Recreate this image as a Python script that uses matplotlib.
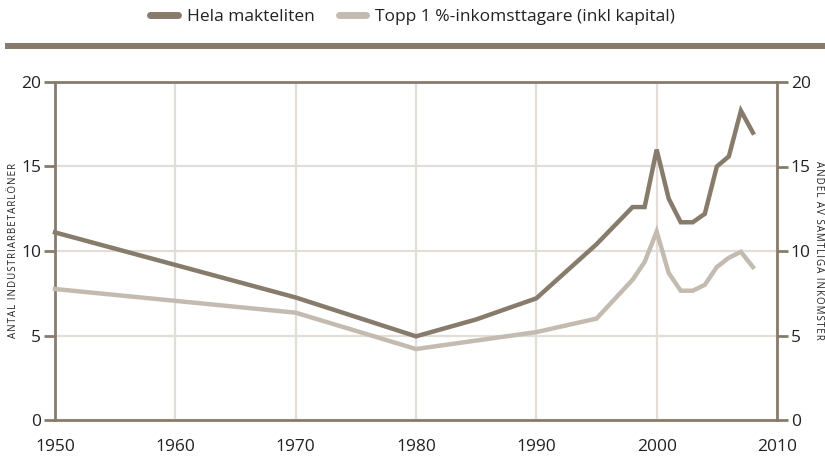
import matplotlib
matplotlib.use("Agg")
import matplotlib.pyplot as plt
from matplotlib.lines import Line2D
from matplotlib.patches import Rectangle

plt.rcParams['font.family'] = ['Open Sans', 'DejaVu Sans']

years_elite = [1950, 1970, 1980, 1985, 1990, 1995, 1998, 1999, 2000, 2001, 2002, 2003, 2004, 2005, 2006, 2007, 2008]
elite = [11.1, 7.25, 4.95, 5.95, 7.2, 10.4, 12.6, 12.6, 16.0, 13.1, 11.7, 11.7, 12.2, 15.0, 15.6, 18.3, 17.0]

years_top = [1950, 1970, 1980, 1990, 1995, 1998, 1999, 2000, 2001, 2002, 2003, 2004, 2005, 2006, 2007, 2008]
top1 = [7.75, 6.35, 4.2, 5.2, 6.0, 8.3, 9.35, 11.15, 8.7, 7.65, 7.65, 8.0, 9.05, 9.6, 9.95, 9.05]

series_labels = ["Hela makteliten", "Topp 1 %-inkomsttagare (inkl kapital)"]
x_ticks = [1950, 1960, 1970, 1980, 1990, 2000, 2010]
y_ticks = [0, 5, 10, 15, 20]
left_label = "ANTAL INDUSTRIARBETARLÖNER"
right_label = "ANDEL AV SAMTLIGA INKOMSTER"

DARK = "#877b6b"
LIGHT = "#c4bbb0"
GRID = "#e2ded7"
TXT = "#222222"

def spaced(s):
    return "\u200a".join(s)

fig = plt.figure(figsize=(8.25, 4.57), dpi=100)
ax = fig.add_axes([55/825, 37/457, (777-55)/825, (420-82)/457])

ax.plot(years_top, top1, color=LIGHT, lw=3.2, solid_joinstyle='miter', zorder=3, clip_on=False)
ax.plot(years_elite, elite, color=DARK, lw=3.2, solid_joinstyle='miter', zorder=4, clip_on=False)

ax.set_xlim(1950, 2010)
ax.set_ylim(0, 20)
ax.set_xticks(x_ticks)
ax.set_yticks(y_ticks)
ax.grid(True, color=GRID, lw=1.6, zorder=0)
ax.set_axisbelow(True)
for s in ax.spines.values():
    s.set_color(DARK)
    s.set_linewidth(2)
ax.tick_params(axis='x', length=0, pad=14, labelsize=12.5, labelcolor=TXT)
ax.tick_params(axis='y', length=8, width=2, color=DARK, pad=2, labelsize=12.5, labelcolor=TXT)

ax2 = ax.twinx()
ax2.set_ylim(0, 20)
ax2.set_yticks(y_ticks)
for s in ax2.spines.values():
    s.set_visible(False)
ax2.tick_params(axis='y', length=8, width=2, color=DARK, pad=2, labelsize=12.5, labelcolor=TXT)

fig.text(14/825, 1 - 250/457, spaced(left_label), rotation=90, ha='center', va='center',
         fontsize=7, color=TXT)
fig.text(818/825, 1 - 250/457, spaced(right_label), rotation=-90, ha='center', va='center',
         fontsize=7, color=TXT)

# top band
fig.patches.append(Rectangle((5/825, 1 - 49/457), 820/825, 6/457, transform=fig.transFigure,
                             facecolor=DARK, edgecolor='none'))

handles = [Line2D([], [], color=DARK, lw=5, solid_capstyle='round'),
           Line2D([], [], color=LIGHT, lw=5, solid_capstyle='round')]
fig.legend(handles, series_labels, loc='center', bbox_to_anchor=(0.5, 1 - 17/457), ncol=2,
           frameon=False, fontsize=12.5, handlelength=1.6, handletextpad=0.5, columnspacing=1.4,
           labelcolor=TXT)

fig.savefig("out.png", dpi=100)
